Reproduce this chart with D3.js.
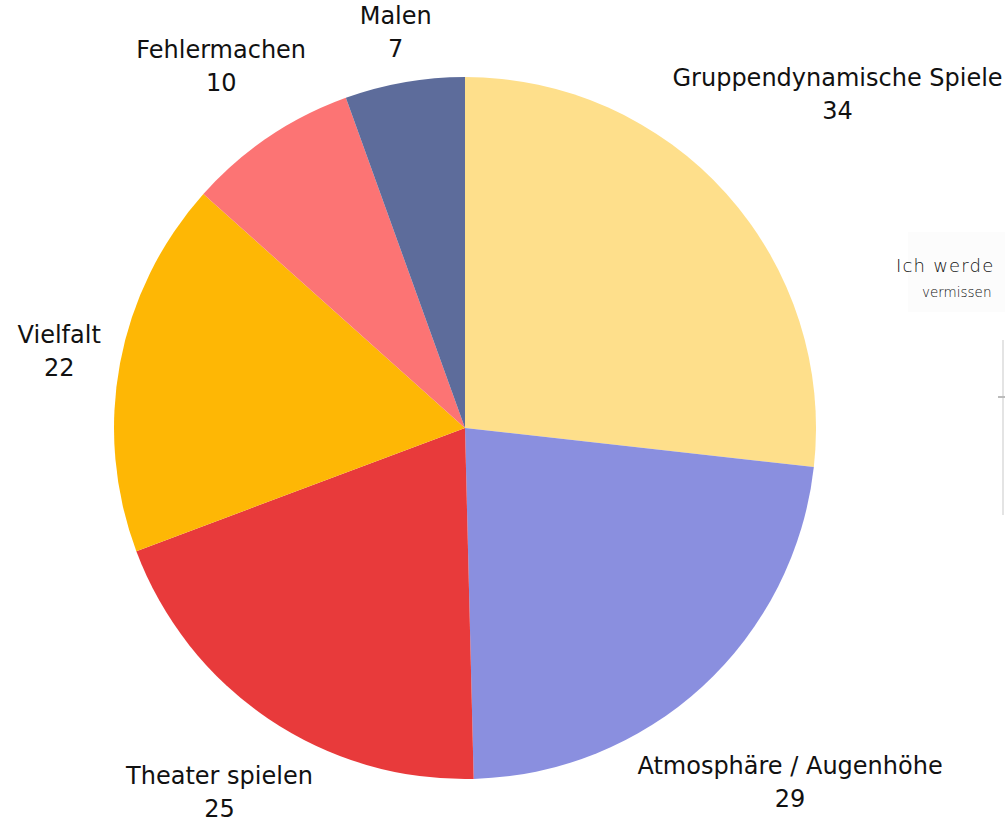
<!DOCTYPE html>
<html>
<head>
<meta charset="utf-8">
<script src="https://cdn.jsdelivr.net/npm/d3@7"></script>
<style>
  html, body { margin: 0; padding: 0; background: #fff; }
  svg { display: block; }
</style>
</head>
<body>
<svg id="chart" width="1005" height="823"></svg>
<script>
const categories = ["Gruppendynamische Spiele", "Atmosphäre / Augenhöhe", "Theater spielen", "Vielfalt", "Fehlermachen", "Malen"];
const values = [34, 29, 25, 22, 10, 7];
const colors = ["#FEDF8B", "#8A8FDF", "#E83A3B", "#FEB705", "#FC7474", "#5D6C9B"];

const W = 1005, H = 823;
const cx = 465, cy = 428, radius = 351;
const labelClear = 367;

const svg = d3.select("#chart");

// faint handwritten residue at right edge
const bg = svg.append("g").attr("class", "residue");
bg.append("rect").attr("x", 908).attr("y", 232).attr("width", 97).attr("height", 80).attr("fill", "#fcfcfc");
bg.append("text").attr("x", 896).attr("y", 272).text("Ich werde")
  .attr("font-family", "'DejaVu Sans'").attr("font-size", 18).attr("font-weight", 200)
  .attr("fill", "#111").attr("letter-spacing", 1.2);
bg.append("text").attr("x", 922).attr("y", 297).text("vermissen")
  .attr("font-family", "'DejaVu Sans'").attr("font-size", 13.5).attr("font-weight", 200)
  .attr("fill", "#111");
bg.append("line").attr("x1", 1003).attr("x2", 1003).attr("y1", 340).attr("y2", 515)
  .attr("stroke", "#e4e4e4").attr("stroke-width", 2);
bg.append("line").attr("x1", 998).attr("x2", 1005).attr("y1", 397).attr("y2", 397)
  .attr("stroke", "#bbb").attr("stroke-width", 2);

const data = categories.map((c, i) => ({ name: c, value: values[i], color: colors[i] }));

const pie = d3.pie().value(d => d.value).sort(null);
const arcs = pie(data);
const arc = d3.arc().innerRadius(0).outerRadius(radius);

const g = svg.append("g").attr("transform", `translate(${cx},${cy})`);

g.selectAll("path.slice")
  .data(arcs)
  .join("path")
  .attr("class", "slice")
  .attr("d", arc)
  .attr("fill", d => d.data.color);

const lineGap = 33;
const labels = g.selectAll("g.label")
  .data(arcs)
  .join("g")
  .attr("class", "label");

labels.append("text")
  .attr("text-anchor", "middle")
  .attr("font-family", "'DejaVu Sans', sans-serif")
  .attr("font-size", 24)
  .attr("fill", "#111")
  .each(function(d) {
    const t = d3.select(this);
    t.append("tspan").attr("x", 0).attr("y", 0).text(d.data.name);
    t.append("tspan").attr("x", 0).attr("y", lineGap).text(d.data.value);
  });

function rectDist(x, y, w, h) {
  const dx = Math.max(Math.abs(x) - w / 2, 0);
  const dy = Math.max(Math.abs(y) - h / 2, 0);
  return Math.hypot(dx, dy);
}

labels.each(function(d) {
  const node = d3.select(this);
  const bb = this.getBBox();
  const mid = (d.startAngle + d.endAngle) / 2;
  const ux = Math.sin(mid), uy = -Math.cos(mid);
  let lo = 0, hi = 1200;
  for (let k = 0; k < 60; k++) {
    const m = (lo + hi) / 2;
    if (rectDist(ux * m, uy * m, bb.width, bb.height) < labelClear) lo = m; else hi = m;
  }
  const px = ux * hi, py = uy * hi;
  const ox = bb.x + bb.width / 2, oy = bb.y + bb.height / 2;
  node.attr("transform", `translate(${px - ox},${py - oy})`);
});
</script>
</body>
</html>
